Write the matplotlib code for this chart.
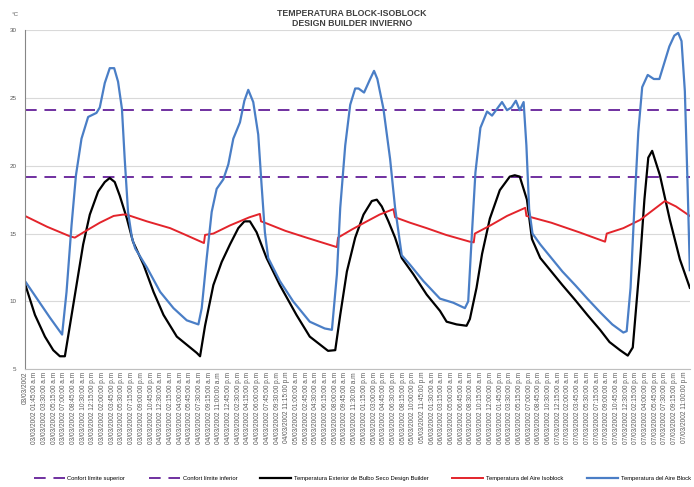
import datetime as dt
import matplotlib
matplotlib.use('Agg')
import matplotlib.pyplot as plt

# ################################### DATOS (horas desde 03/03/2002 00:00)
horas_block = [0.0, 1.5, 3.0, 4.5, 6.7, 7.5, 8.4, 9.2, 10.2, 11.4, 12.9, 13.5, 14.4, 15.3, 16.1, 16.8, 17.5,
               18.0, 18.6, 19.3, 19.9, 22.0, 24.4, 26.8, 29.2, 31.3, 31.9, 32.8, 33.7, 34.6, 35.8, 36.7,
               37.6, 38.8, 39.6, 40.3, 41.2, 42.1, 42.7, 43.3, 43.9, 46.0, 48.4, 51.4, 54.1, 55.4, 56.3,
               56.9, 57.8, 58.7, 59.6, 60.2, 61.2, 62.3, 63.0, 63.6, 64.7, 65.9, 66.8, 68.0, 69.5, 71.9,
               74.9, 77.3, 79.4, 80.0, 80.6, 81.3, 82.2, 83.4, 84.3, 85.2, 86.1, 87.0, 87.8, 88.6, 89.3,
               90.0, 90.5, 91.0, 91.6, 93.0, 95.0, 97.0, 99.3, 101.5, 103.8, 106.0, 108.0, 108.6, 109.3,
               110.0, 110.7, 111.4, 112.4, 113.5, 114.5, 115.4, 116.3, 117.2, 117.9, 118.5, 119.1, 119.6,
               120.0]
temp_block = [11.5, 10.6, 9.7, 8.8, 7.55, 10.7, 15.6, 19.3, 22.0, 23.6, 23.9, 24.3, 26.1, 27.2, 27.2, 26.2, 24.2,
              20.5, 16.6, 14.7, 13.9, 12.5, 10.7, 9.5, 8.6, 8.3, 9.5, 13.2, 16.6, 18.3, 19.0, 20.1,
              22.0, 23.2, 24.8, 25.6, 24.7, 22.3, 18.6, 15.1, 13.2, 11.5, 10.0, 8.5, 8.0, 7.9, 12.0,
              16.9, 21.5, 24.5, 25.7, 25.7, 25.4, 26.4, 27.0, 26.4, 24.2, 20.5, 16.9, 13.4, 12.7, 11.5,
              10.2, 9.9, 9.5, 10.0, 14.5, 19.5, 22.8, 24.0, 23.7, 24.2, 24.7, 24.1, 24.3, 24.8, 24.1,
              24.7, 21.5, 16.8, 15.0, 14.2, 13.2, 12.2, 11.2, 10.2, 9.2, 8.3, 7.7, 7.8, 11.0,
              17.0, 22.5, 25.8, 26.7, 26.4, 26.4, 27.6, 28.8, 29.6, 29.8, 29.2, 25.5, 18.5,
              12.3]

horas_exterior = [0.0, 1.8, 3.6, 5.1, 6.3, 7.2, 8.1, 9.3, 10.5, 11.7, 13.2, 14.4, 15.3, 16.2, 17.1, 18.4, 19.5,
                  21.4, 23.2, 25.0, 27.4, 29.2, 31.0, 31.6, 32.5, 34.0, 35.5, 37.0, 38.5, 39.6, 40.6, 41.8,
                  43.6, 46.0, 49.0, 51.4, 53.6, 54.7, 56.0, 56.9, 58.1, 59.6, 61.1, 62.6, 63.5, 64.4, 65.6,
                  66.8, 68.0, 70.1, 72.5, 74.9, 76.1, 77.9, 79.7, 80.3, 81.5, 82.5, 83.9, 85.7, 87.5, 88.4,
                  89.3, 90.6, 91.5, 93.0, 94.8, 97.0, 99.3, 101.5, 103.8, 105.5, 107.4, 108.8, 109.7, 111.0,
                  111.8, 112.5, 113.2, 114.6, 116.4, 118.2, 120.0]
temp_exterior = [11.3, 9.0, 7.4, 6.4, 5.95, 5.95, 8.2, 11.2, 14.2, 16.4, 18.1, 18.8, 19.1, 18.8, 17.8, 16.1, 14.4,
                 12.7, 10.7, 9.0, 7.4, 6.8, 6.2, 5.95, 8.2, 11.2, 12.9, 14.2, 15.4, 15.9, 15.9, 15.1,
                 13.2, 11.2, 9.0, 7.4, 6.7, 6.35, 6.4, 9.0, 12.2, 14.7, 16.4, 17.4, 17.5, 17.0, 15.9,
                 14.7, 13.2, 12.0, 10.5, 9.3, 8.5, 8.3, 8.2, 8.7, 11.0, 13.5, 16.1, 18.2, 19.2, 19.3,
                 19.2, 17.5, 14.6, 13.2, 12.3, 11.2, 10.1, 9.0, 7.9, 7.0, 6.4, 6.0, 6.6, 12.9,
                 17.5, 20.6, 21.1, 19.3, 16.0, 13.1, 11.0]

horas_isoblock = [0.0, 4.0, 8.1, 9.0, 11.0, 13.5, 16.0, 17.7, 18.3, 22.0, 26.2, 29.0, 32.3, 32.5, 34.0, 37.0,
                  40.5, 42.4, 42.6, 43.3, 47.0, 50.8, 56.3, 56.5, 59.0, 61.7, 64.0, 66.5, 66.8, 69.5, 72.5,
                  76.0, 80.3, 81.0, 81.2, 84.0, 87.0, 90.3, 90.5, 95.0, 100.0, 104.7, 105.0, 108.0, 111.0,
                  115.5, 117.5, 120.0]
temp_isoblock = [16.3, 15.5, 14.8, 14.7, 15.2, 15.8, 16.3, 16.4, 16.4, 15.9, 15.4, 14.9, 14.3, 14.9, 15.0, 15.6,
                 16.2, 16.45, 15.9, 15.8, 15.2, 14.7, 14.0, 14.7, 15.3, 15.9, 16.4, 16.8, 16.2, 15.8, 15.4,
                 14.9, 14.4, 14.35, 15.0, 15.6, 16.3, 16.9, 16.3, 15.8, 15.1, 14.4, 15.0, 15.4, 16.0,
                 17.4, 17.0, 16.3]

confort_superior = 24.1
confort_inferior = 19.2

# etiquetas del eje x: cada 1h45 desde el 03/03/2002
inicio = dt.datetime(2002, 3, 3, 0, 0)
paso_horas = 1.75
n_etiquetas = 69


def etiqueta(t):
    if t.hour == 0 and t.minute == 0:
        return t.strftime('%d/%m/%Y')
    sufijo = 'a.m' if t.hour < 12 else 'p.m'
    return t.strftime('%d/%m/%Y %I:%M:%S ') + sufijo


def main():
    plt.rcParams['font.family'] = ['Liberation Sans', 'DejaVu Sans']

    fig = plt.figure(figsize=(6.94, 4.87), dpi=100)
    ax = fig.add_axes([0.036, 0.242, 0.958, 0.696])

    morado = '#7030A0'
    ax.plot([0, 120], [confort_superior] * 2, color=morado, lw=1.4, dashes=(6, 4),
            label='Confort límite superior')
    ax.plot([0, 120], [confort_inferior] * 2, color=morado, lw=1.4, dashes=(6, 4),
            label='Confort límite inferior')
    ax.plot(horas_exterior, temp_exterior, color='black', lw=1.6,
            label='Temperatura Exterior de Bulbo Seco Design Builder')
    ax.plot(horas_isoblock, temp_isoblock, color='#E3242B', lw=1.4, label='Temperatura del Aire Isoblock')
    ax.plot(horas_block, temp_block, color='#4A7EC6', lw=1.6, label='Temperatura del Aire Block')

    ax.set_xlim(0, 120)
    ax.set_ylim(5, 30)
    ax.set_yticks([5, 10, 15, 20, 25, 30])
    ax.yaxis.grid(True, color='#D9D9D9', lw=0.8)
    ax.set_axisbelow(True)

    ticks = [i * paso_horas for i in range(n_etiquetas)]
    labels = [etiqueta(inicio + dt.timedelta(hours=t)) for t in ticks]
    ax.set_xticks(ticks)
    ax.set_xticklabels(labels, rotation=90, fontsize=4.7, color='#595959')
    ax.tick_params(axis='x', length=0, pad=2)
    ax.tick_params(axis='y', length=0, pad=6, labelsize=4.5, labelcolor='#595959')

    for lado in ['top', 'right']:
        ax.spines[lado].set_visible(False)
    ax.spines['left'].set_color('#868686')
    ax.spines['bottom'].set_color('#BFBFBF')

    fig.text(0.507, 0.962, 'TEMPERATURA BLOCK-ISOBLOCK\nDESIGN BUILDER INVIERNO', ha='center', va='center',
             fontsize=6.3, fontweight='bold', color='#404040', linespacing=1.25)
    fig.text(0.017, 0.967, '°C', fontsize=4.5, color='#595959')

    fig.legend(loc='center', bbox_to_anchor=(0.522, 0.018), ncol=5, frameon=False, fontsize=4.2,
               handlelength=5.3, columnspacing=4.0, handletextpad=0.5)

    fig.savefig('out.png', dpi=100)


main()
